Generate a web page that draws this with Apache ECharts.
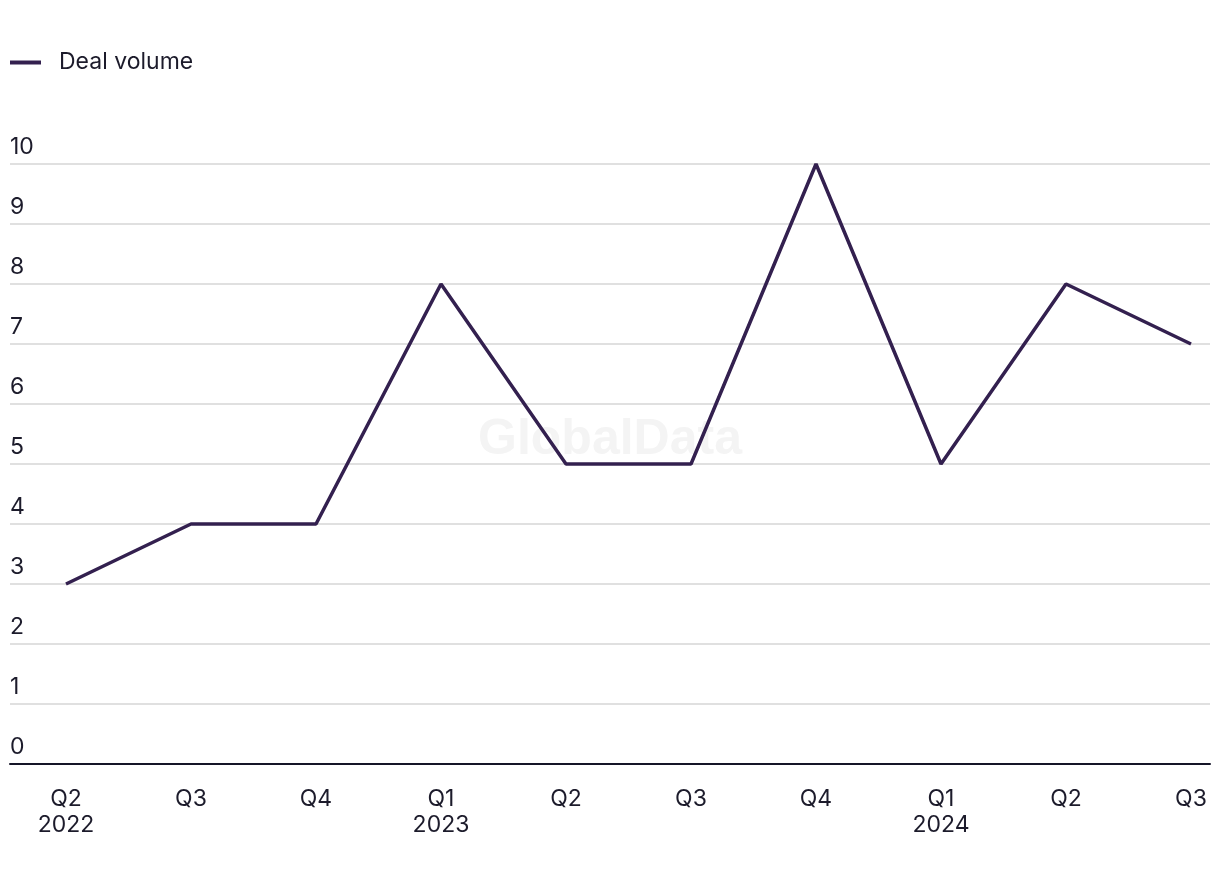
<!DOCTYPE html>
<html>
<head>
<meta charset="utf-8">
<script src="https://cdn.jsdelivr.net/npm/echarts@6/dist/echarts.min.js"></script>
<style>html,body{margin:0;padding:0;background:#fff}#c{width:1220px;height:884px}</style>
</head>
<body>
<div id="c"></div>
<script>
const quarters = ['Q2\n2022','Q3','Q4','Q1\n2023','Q2','Q3','Q4','Q1\n2024','Q2','Q3'];
const dealVolume = [3,4,4,8,5,5,10,5,8,7];
const seriesName = 'Deal volume';

const chart = echarts.init(document.getElementById('c'));
const textColor = '#1c1b2b';
const lineColor = '#33204f';
const font = 'Inter';
chart.setOption({
  animation: false,
  backgroundColor: '#fff',
  legend: {
    left: 10, top: 51, padding: 0,
    itemWidth: 31, itemHeight: 4, itemGap: 18,
    icon: 'rect',
    textStyle: { color: textColor, fontSize: 23, fontFamily: font, padding: [0,0,0,13] },
    data: [{ name: seriesName, itemStyle: { color: lineColor } }]
  },
  graphic: [{
    type: 'text', left: 'center', top: 415, silent: true, z: 0,
    style: { text: 'GlobalData', fontSize: 50, fontWeight: 'bold', fontFamily: 'Liberation Sans', fill: '#f4f4f4' }
  }],
  grid: { left: 10, right: 10, top: 164, bottom: 120, containLabel: false },
  xAxis: {
    type: 'value',
    min: -0.448, max: 9.152,
    axisLine: { show: true, onZero: false, lineStyle: { color: '#151528', width: 2 } },
    axisTick: { show: false },
    splitLine: { show: false },
    axisLabel: {
      customValues: quarters.map((q, i) => i),
      formatter: v => quarters[Math.round(v)],
      color: textColor, fontSize: 23, fontFamily: font, lineHeight: 26,
      margin: 22, align: 'center'
    }
  },
  yAxis: {
    type: 'value', min: 0, max: 10, interval: 1,
    axisLine: { show: false }, axisTick: { show: false },
    splitLine: { show: true, lineStyle: { color: '#d6d6d6', width: 1.5 } },
    axisLabel: {
      inside: true, verticalAlign: 'bottom', align: 'left', margin: 0,
      padding: [0,0,5,0],
      color: textColor, fontSize: 23, fontFamily: font,
      formatter: v => String(v)
    }
  },
  series: [{
    name: seriesName, type: 'line',
    data: dealVolume.map((v, i) => [i, v]),
    showSymbol: false, symbol: 'none',
    lineStyle: { color: lineColor, width: 3.5 },
    itemStyle: { color: lineColor },
    z: 3
  }]
});
</script>
</body>
</html>
